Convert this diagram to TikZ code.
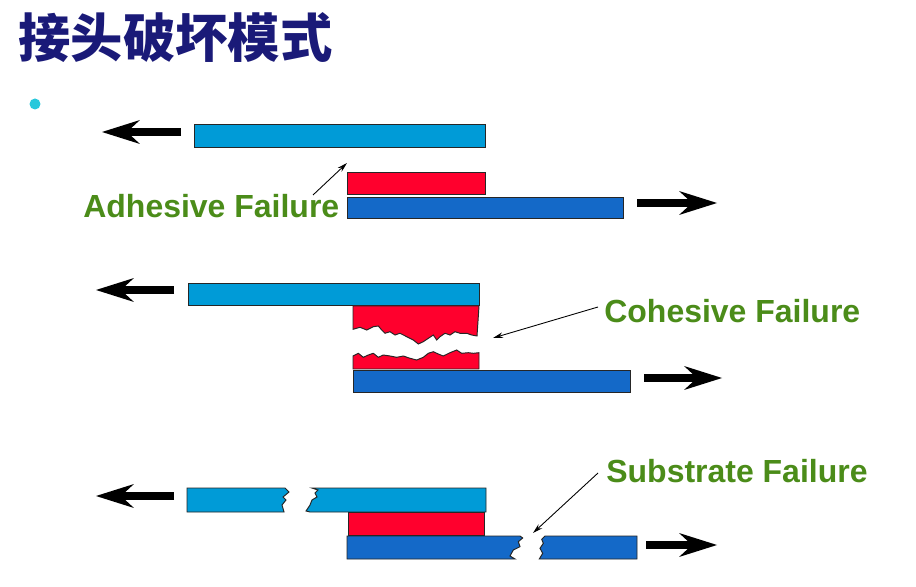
\documentclass[tikz,border=0pt]{standalone}
\usepackage{fontspec}
\setmainfont{Liberation Sans}
\newfontfamily\cjk{Noto Sans CJK SC}
\usetikzlibrary{arrows.meta}
\definecolor{titleblue}{RGB}{26,26,120}
\definecolor{paleblue}{RGB}{0,155,215}
\definecolor{deepblue}{RGB}{20,105,200}
\definecolor{gluered}{RGB}{255,0,45}
\definecolor{labelgreen}{RGB}{75,140,25}
\definecolor{dotcyan}{RGB}{40,200,220}

\begin{document}
\begin{tikzpicture}[x=0.02cm,y=-0.02cm,
	upper/.style={fill=paleblue,draw=black!85,line width=0.55pt},
	lower/.style={fill=deepblue,draw=black!85,line width=0.55pt},
	glue/.style={fill=gluered,draw=black!85,line width=0.55pt},
	force/.style={line width=0.16cm,-{Stealth[length=0.76cm,width=0.48cm,inset=0.26cm,line width=0pt]}},
	failname/.style={text=labelgreen,font=\fontsize{18.2}{22}\selectfont\bfseries,inner sep=0pt,anchor=base west},
	pointer/.style={line width=0.5pt,-{Stealth[length=0.2cm,width=0.11cm]}}]
	\useasboundingbox[fill=white] (0,0) rectangle (916,587);
	% title and bullet
	\node[anchor=west,inner sep=0pt,text=titleblue,font=\cjk\bfseries\fontsize{29.8}{34}\selectfont] (title) at (18,38) {接头破坏模式};
	\fill[dotcyan] (35,104) circle[radius=0.11cm];
	% adhesive failure
	\draw[force] (181,132) -- (102,132);
	\draw[upper] (194,124) rectangle (485,147);
	\draw[glue] (347,172) rectangle (485,194);
	\draw[lower] (347,197) rectangle (623,218);
	\draw[force] (637,203) -- (717,203);
	\node[failname] (adh) at (83,218) {Adhesive Failure};
	\coordinate (adh-from) at (313,195);
	\coordinate (adh-tip) at (347,163);
	\draw[pointer] (adh-from) -- (adh-tip);
	% cohesive failure
	\draw[force] (174,290) -- (96,290);
	\draw[upper] (188,283) rectangle (479,305);
	\draw[glue] (353,306) -- (479,306) -- (477,336) -- (471.7,335) -- (466.7,333.3) -- (460,333.3) -- (455,331.7) -- (450,335) -- (445,333.3) -- (440,336.7) -- (436.7,340) -- (433.3,335) -- (428.3,338.3) -- (423.3,341.7) -- (418.3,344) -- (413.3,340) -- (406.7,336.7) -- (400,333.3) -- (395,335) -- (390,331.7) -- (385,333.3) -- (381.7,330) -- (378.3,326) -- (373.3,326.7) -- (366.7,330) -- (360,327.3) -- (353,329.3) -- cycle;
	\draw[glue] (353,356) -- (358.3,353.3) -- (363.3,357.3) -- (368.3,355) -- (373.3,353.3) -- (378.3,357.3) -- (383.3,355) -- (390,356) -- (396.7,357.3) -- (403.3,356) -- (410,358.3) -- (416.7,360) -- (423.3,357.3) -- (428.3,353.3) -- (433.3,351.7) -- (438.3,354) -- (443.3,356) -- (450,352.7) -- (456.7,350) -- (461.7,353.3) -- (468.3,352.7) -- (473.3,353.3) -- (479,352.7) -- (479,369) -- (353,369) -- cycle;
	\draw[lower] (353,370) rectangle (630,392);
	\draw[force] (644,378) -- (722,378);
	\node[failname] (coh) at (604,323) {Cohesive Failure};
	\coordinate (coh-from) at (598,307);
	\coordinate (coh-tip) at (493,338);
	\draw[pointer] (coh-from) -- (coh-tip);
	% substrate failure
	\draw[force] (174,496) -- (96,496);
	\draw[upper] (187,488) -- (285,488) -- (289,492) -- (283,497) -- (286,500) -- (282,505) -- (284,512) -- (187,512) -- cycle;
	\draw[upper] (312,488) -- (486,488) -- (486,512) -- (310,512) -- (306,511) -- (310,505) -- (312,500) -- (317,497) -- (315,493) -- (318,490) -- cycle;
	\draw[glue] (348,512) rectangle (484,535);
	\draw[lower] (347,536) -- (520,536) -- (522.7,538) -- (518.3,541.7) -- (520,546.7) -- (513.3,550) -- (510,556) -- (515,559) -- (347,559) -- cycle;
	\draw[lower] (545,536) -- (637,536) -- (637,559) -- (539.3,559) -- (542.7,553.3) -- (540,548.3) -- (543.3,543.3) -- (541.7,539.3) -- cycle;
	\draw[force] (646,545) -- (717,545);
	\node[failname] (sub) at (606,482) {Substrate Failure};
	\coordinate (sub-from) at (598,473);
	\coordinate (sub-tip) at (533,533);
	\draw[pointer] (sub-from) -- (sub-tip);
\end{tikzpicture}
\end{document}
